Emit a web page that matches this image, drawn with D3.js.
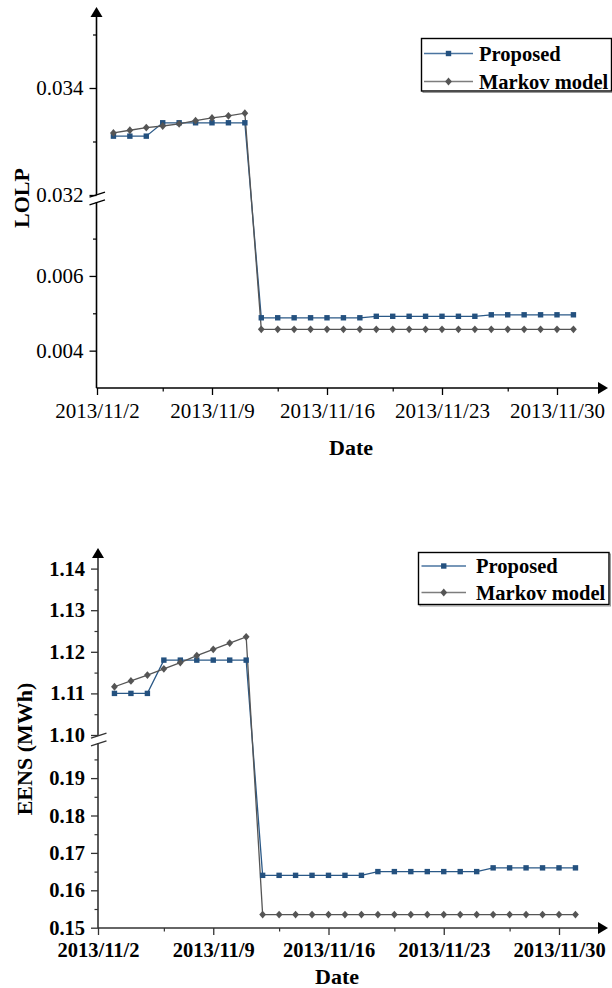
<!DOCTYPE html>
<html>
<head>
<meta charset="utf-8">
<script src="https://cdn.jsdelivr.net/npm/d3@7"></script>
<style>
  html, body { margin: 0; padding: 0; background: #fff; }
  svg { display: block; }
</style>
</head>
<body>
<svg id="chart" width="612" height="988"></svg>
<script>
// Daily dates shown on both panels
const dates = [
  "2013-11-03","2013-11-04","2013-11-05","2013-11-06","2013-11-07","2013-11-08",
  "2013-11-09","2013-11-10","2013-11-11","2013-11-12","2013-11-13","2013-11-14",
  "2013-11-15","2013-11-16","2013-11-17","2013-11-18","2013-11-19","2013-11-20",
  "2013-11-21","2013-11-22","2013-11-23","2013-11-24","2013-11-25","2013-11-26",
  "2013-11-27","2013-11-28","2013-11-29","2013-11-30","2013-12-01"
];
const seriesNames = ["Proposed", "Markov model"];

// LOLP
const lolpProposed = [
  0.03310, 0.03310, 0.03310, 0.03335, 0.03335, 0.03335, 0.03335, 0.03335, 0.03335,
  0.00488, 0.00488, 0.00488, 0.00488, 0.00488, 0.00488, 0.00488,
  0.00492, 0.00492, 0.00492, 0.00492, 0.00492, 0.00492, 0.00492,
  0.00496, 0.00496, 0.00496, 0.00496, 0.00496, 0.00496
];
const lolpMarkov = [
  0.03316, 0.03321, 0.03326, 0.03329, 0.03333, 0.03339, 0.03344, 0.03348, 0.03353,
  0.00457, 0.00457, 0.00457, 0.00457, 0.00457, 0.00457, 0.00457, 0.00457, 0.00457, 0.00457,
  0.00457, 0.00457, 0.00457, 0.00457, 0.00457, 0.00457, 0.00457, 0.00457, 0.00457, 0.00457
];
const lolpTicks = [0.004, 0.006, 0.032, 0.034];
const lolpTickLabels = ["0.004", "0.006", "0.032", "0.034"];
const lolpMinorTicks = [0.005, 0.007, 0.033, 0.035];

// EENS (MWh)
const eensProposed = [
  1.110, 1.110, 1.110, 1.118, 1.118, 1.118, 1.118, 1.118, 1.118,
  0.164, 0.164, 0.164, 0.164, 0.164, 0.164, 0.164,
  0.165, 0.165, 0.165, 0.165, 0.165, 0.165, 0.165,
  0.166, 0.166, 0.166, 0.166, 0.166, 0.166
];
const eensMarkov = [
  1.1116, 1.1130, 1.1144, 1.1159, 1.1174, 1.1191, 1.1206, 1.1221, 1.1236,
  0.1535, 0.1535, 0.1535, 0.1535, 0.1535, 0.1535, 0.1535, 0.1535, 0.1535, 0.1535,
  0.1535, 0.1535, 0.1535, 0.1535, 0.1535, 0.1535, 0.1535, 0.1535, 0.1535, 0.1535
];
const eensTicks = [0.15, 0.16, 0.17, 0.18, 0.19, 1.10, 1.11, 1.12, 1.13, 1.14];
const eensTickLabels = ["0.15", "0.16", "0.17", "0.18", "0.19", "1.10", "1.11", "1.12", "1.13", "1.14"];
const eensMinorTicks = [0.155, 0.165, 0.175, 0.185, 0.195, 1.105, 1.115, 1.125, 1.135];

// Date axis ticks
const xTickDates = ["2013-11-02", "2013-11-09", "2013-11-16", "2013-11-23", "2013-11-30"];
const xMinorDates = ["2013-11-06", "2013-11-13", "2013-11-20", "2013-11-27"];

const parse = d3.timeParse("%Y-%m-%d");
const fmtDate = d3.timeFormat("%Y/%m/%-d");
const colors = { proposed: "#2b5987", markov: "#555555" };
const FONT = "'Liberation Serif', 'Times New Roman', serif";
// diamond marker outline, centred on the point
const DIAMOND = "M0,-3.9 L3.4,0 L0,3.9 L-3.4,0 Z";

const svg = d3.select("#chart");

function drawPanel(cfg) {
  const g = svg.append("g");
  const x = d3.scaleTime()
    .domain([parse("2013-11-02"), parse("2013-11-30")])
    .range([cfg.x0, cfg.x30]);
  const yLow = d3.scaleLinear().domain(cfg.lowDomain).range(cfg.lowRange);
  const yUp = d3.scaleLinear().domain(cfg.upDomain).range(cfg.upRange);
  const y = v => (v >= cfg.split ? yUp(v) : yLow(v));
  const weight = cfg.bold ? "bold" : "normal";

  // y axis ticks (major + minor), split into the two segments
  [[yLow, cfg.ticks.filter(v => v < cfg.split)], [yUp, cfg.ticks.filter(v => v >= cfg.split)]]
    .forEach(([sc, vals]) => {
      const ax = g.append("g")
        .attr("transform", `translate(${cfg.axisX},0)`)
        .call(d3.axisLeft(sc).tickValues(vals).tickSize(7).tickPadding(6)
          .tickFormat(v => cfg.tickLabels[cfg.ticks.indexOf(v)]));
      ax.select(".domain").remove();
      ax.selectAll("line").attr("stroke", cfg.axisColor).attr("stroke-width", 1.3);
      ax.selectAll("text").attr("font-family", FONT).attr("font-size", cfg.tickFont)
        .attr("font-weight", weight).attr("fill", "#000");
    });
  [[yLow, cfg.minor.filter(v => v < cfg.split)], [yUp, cfg.minor.filter(v => v >= cfg.split)]]
    .forEach(([sc, vals]) => {
      const ax = g.append("g")
        .attr("transform", `translate(${cfg.axisX},0)`)
        .call(d3.axisLeft(sc).tickValues(vals).tickSize(3.5).tickFormat(""));
      ax.select(".domain").remove();
      ax.selectAll("line").attr("stroke", cfg.axisColor).attr("stroke-width", 1.2);
    });

  // y axis line with a gap at the break
  const yBreakTop = cfg.breakY - 3.5, yBreakBot = cfg.breakY + 3.5;
  g.append("line").attr("x1", cfg.axisX).attr("x2", cfg.axisX)
    .attr("y1", cfg.arrowTop + 8).attr("y2", yBreakTop)
    .attr("stroke", cfg.axisColor).attr("stroke-width", 1.6);
  g.append("line").attr("x1", cfg.axisX).attr("x2", cfg.axisX)
    .attr("y1", yBreakBot).attr("y2", cfg.xAxisY)
    .attr("stroke", cfg.axisColor).attr("stroke-width", 1.6);
  // break marks
  [-3.8, 3.8].forEach(off => {
    g.append("line")
      .attr("x1", cfg.axisX - 7).attr("y1", cfg.breakY + off + 2.5)
      .attr("x2", cfg.axisX + 8.5).attr("y2", cfg.breakY + off - 2.5)
      .attr("stroke", cfg.axisColor).attr("stroke-width", 1.3);
  });
  // y arrow
  g.append("path")
    .attr("d", `M${cfg.axisX},${cfg.arrowTop} L${cfg.axisX - 6},${cfg.arrowTop + 10} L${cfg.axisX + 6},${cfg.arrowTop + 10} Z`)
    .attr("fill", "#000");

  // x axis
  const xa = g.append("g")
    .attr("transform", `translate(0,${cfg.xAxisY})`)
    .call(d3.axisBottom(x).tickValues(xTickDates.map(parse)).tickSize(7)
      .tickPadding(cfg.xPad).tickFormat(fmtDate));
  xa.select(".domain").remove();
  xa.selectAll("line").attr("stroke", cfg.axisColor).attr("stroke-width", 1.3);
  xa.selectAll("text").attr("font-family", FONT).attr("font-size", cfg.tickFont)
    .attr("font-weight", weight).attr("fill", "#000");
  const xm = g.append("g")
    .attr("transform", `translate(0,${cfg.xAxisY})`)
    .call(d3.axisBottom(x).tickValues(xMinorDates.map(parse)).tickSize(3.5).tickFormat(""));
  xm.select(".domain").remove();
  xm.selectAll("line").attr("stroke", cfg.axisColor).attr("stroke-width", 1.2);
  g.append("line").attr("x1", cfg.axisX).attr("x2", 600)
    .attr("y1", cfg.xAxisY).attr("y2", cfg.xAxisY)
    .attr("stroke", cfg.axisColor).attr("stroke-width", 1.6);
  g.append("path")
    .attr("d", `M608,${cfg.xAxisY} L598,${cfg.xAxisY - 6} L598,${cfg.xAxisY + 6} Z`)
    .attr("fill", "#000");

  // series
  const line = d3.line().x(d => x(parse(d.date))).y(d => y(d.v));
  const mk = (vals) => dates.map((d, i) => ({ date: d, v: vals[i] }));
  const proposed = mk(cfg.proposed), markov = mk(cfg.markov);

  g.append("path").datum(proposed).attr("d", line)
    .attr("fill", "none").attr("stroke", colors.proposed).attr("stroke-width", 1.3);
  g.append("path").datum(markov).attr("d", line)
    .attr("fill", "none").attr("stroke", colors.markov).attr("stroke-width", 1.3);

  g.selectAll(".sq").data(proposed).enter().append("rect")
    .attr("x", d => x(parse(d.date)) - 2.7).attr("y", d => y(d.v) - 2.7)
    .attr("width", 5.4).attr("height", 5.4).attr("fill", "#24517f");
  g.selectAll(".dm").data(markov).enter().append("path")
    .attr("d", DIAMOND)
    .attr("transform", d => `translate(${x(parse(d.date))},${y(d.v)})`)
    .attr("fill", "#555");

  // axis titles
  g.append("text")
    .attr("transform", `translate(${cfg.yTitleX},${cfg.yTitleY}) rotate(-90)`)
    .attr("text-anchor", "middle").attr("dominant-baseline", "central")
    .attr("font-family", FONT).attr("font-size", 22).attr("font-weight", "bold")
    .text(cfg.yTitle);
  g.append("text")
    .attr("x", cfg.xTitleX).attr("y", cfg.xTitleY)
    .attr("text-anchor", "middle").attr("dominant-baseline", "central")
    .attr("font-family", FONT).attr("font-size", 22).attr("font-weight", "bold")
    .text("Date");

  // legend
  const L = cfg.legend;
  g.append("rect").attr("x", L.x + 1.5).attr("y", L.y + 1.5).attr("width", L.w).attr("height", L.h)
    .attr("fill", "none").attr("stroke", "#999").attr("stroke-width", 1);
  g.append("rect").attr("x", L.x).attr("y", L.y).attr("width", L.w).attr("height", L.h)
    .attr("fill", "#fff").attr("stroke", "#000").attr("stroke-width", 1.4);
  seriesNames.forEach((name, i) => {
    const ly = L.rows[i];
    g.append("line").attr("x1", L.lineX1).attr("x2", L.lineX2).attr("y1", ly).attr("y2", ly)
      .attr("stroke", i === 0 ? "#4a74a0" : "#7d7d7d").attr("stroke-width", 1.3);
    const cx = (L.lineX1 + L.lineX2) / 2;
    if (i === 0) {
      g.append("rect").attr("x", cx - 2.7).attr("y", ly - 2.7).attr("width", 5.4).attr("height", 5.4)
        .attr("fill", "#24517f");
    } else {
      g.append("path").attr("d", DIAMOND).attr("transform", `translate(${cx},${ly})`).attr("fill", "#555");
    }
    g.append("text").attr("x", L.textX).attr("y", ly).attr("dominant-baseline", "central")
      .attr("font-family", FONT).attr("font-size", 20.5).attr("font-weight", "bold")
      .text(name);
  });
}

drawPanel({
  axisX: 96.5, x0: 97, x30: 557, xAxisY: 388, arrowTop: 7,
  lowDomain: [0.003, 0.008], lowRange: [388, 201.25],
  upDomain: [0.032, 0.0353], upRange: [195, 18.45],
  split: 0.02, breakY: 198.5,
  ticks: lolpTicks, tickLabels: lolpTickLabels, minor: lolpMinorTicks,
  proposed: lolpProposed, markov: lolpMarkov,
  bold: false, tickFont: 21, xPad: 8, axisColor: "#000",
  yTitle: "LOLP", yTitleX: 21, yTitleY: 198,
  xTitleX: 351, xTitleY: 447,
  legend: { x: 421.5, y: 38.5, w: 190, h: 52.5, rows: [53.5, 81.5], lineX1: 424, lineX2: 473, textX: 479 }
});

drawPanel({
  axisX: 98, x0: 98, x30: 559, xAxisY: 928, arrowTop: 548,
  lowDomain: [0.15, 0.20], lowRange: [927.7, 740.7],
  upDomain: [1.10, 1.14], upRange: [735, 568.6],
  split: 0.5, breakY: 739.5,
  ticks: eensTicks, tickLabels: eensTickLabels, minor: eensMinorTicks,
  proposed: eensProposed, markov: eensMarkov,
  bold: true, tickFont: 20.5, xPad: 7.5, axisColor: "#333",
  yTitle: "EENS (MWh)", yTitleX: 24, yTitleY: 749,
  xTitleX: 337, xTitleY: 976,
  legend: { x: 418.5, y: 552.5, w: 190.5, h: 52, rows: [566, 592.5], lineX1: 421.5, lineX2: 466, textX: 476 }
});
</script>
</body>
</html>
